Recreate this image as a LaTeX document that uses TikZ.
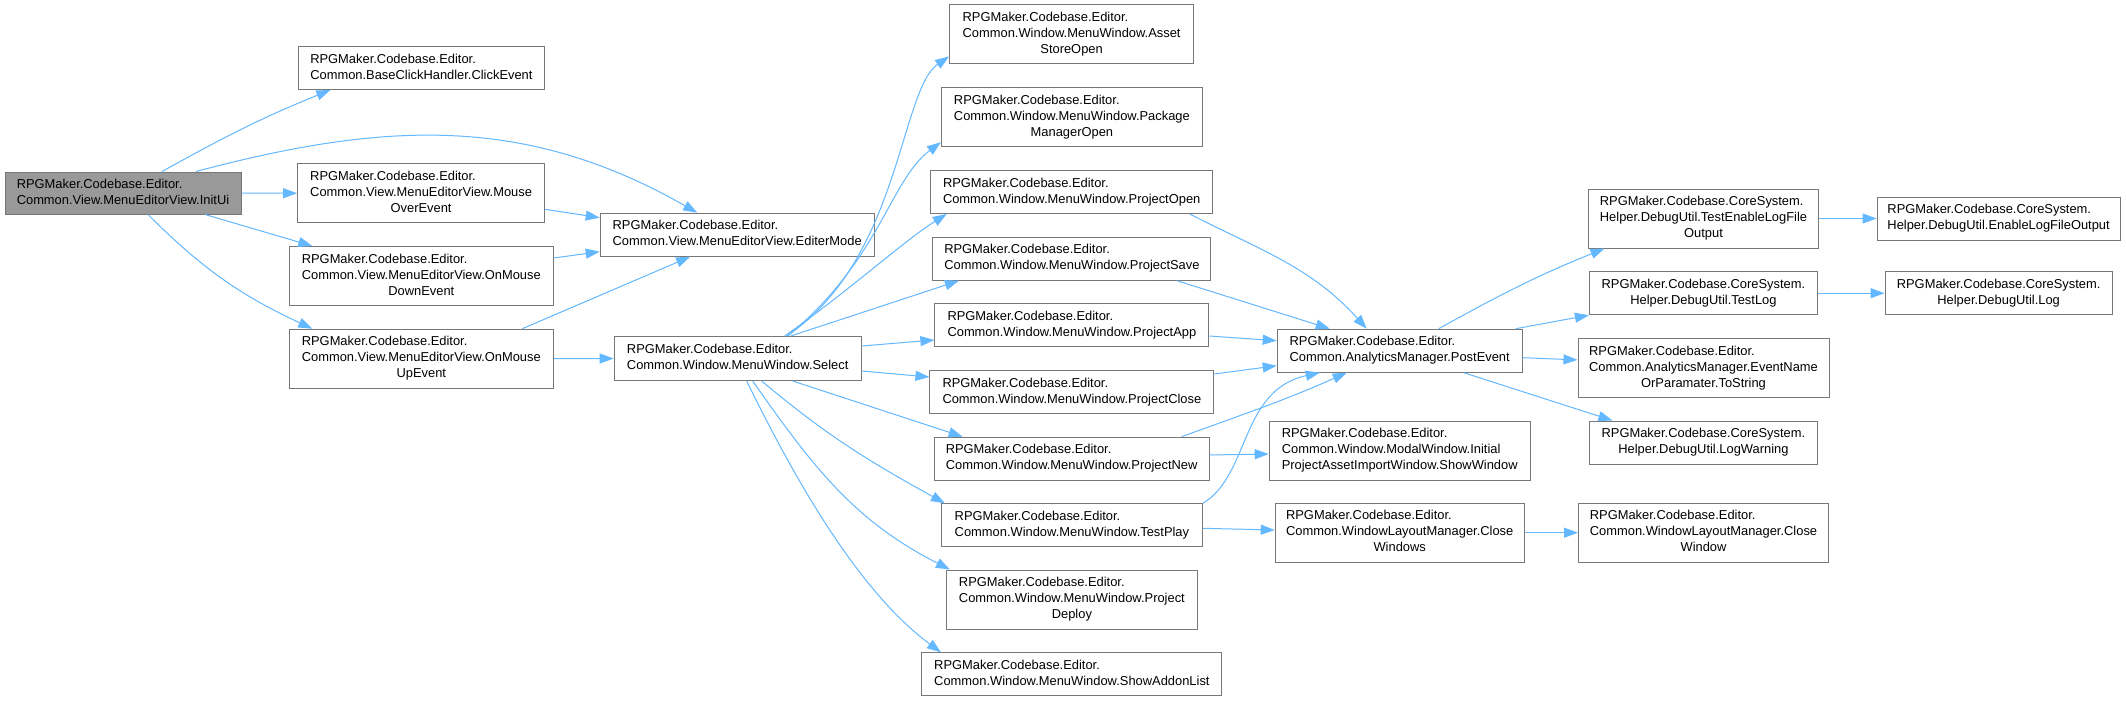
\documentclass[tikz,border=0pt]{standalone}
\usepackage{fontspec}
\setmainfont{Liberation Sans}
\usetikzlibrary{arrows.meta}
\definecolor{edgeblue}{HTML}{63B8FF}
\definecolor{bordergray}{HTML}{777777}
\definecolor{rootgray}{HTML}{999999}
\newcommand\lab[2]{\begin{tabular}{@{}l@{}}#1\\\multicolumn{1}{@{}c@{}}{#2}\end{tabular}}
\tikzset{
  nbox/.style={draw=bordergray, fill=white, line width=1pt, inner sep=0pt, text=black,
    font=\fontsize{12.9}{16}\selectfont},
  conn/.style={draw=edgeblue, line width=1pt, -{Triangle[length=14pt,width=10pt]}},
}
\begin{document}
\begin{tikzpicture}[x=1pt,y=-1pt]
\useasboundingbox[fill=white] (0,0) rectangle (2126,701);
% column 1
\node[nbox, fill=rootgray, minimum width=236pt, minimum height=42pt] (init) at (123,193) {\lab{RPGMaker.Codebase.Editor.}{Common.View.MenuEditorView.InitUi}};
% column 2
\node[nbox, minimum width=246pt, minimum height=43pt] (click) at (421.4,68) {\lab{RPGMaker.Codebase.Editor.}{Common.BaseClickHandler.ClickEvent}};
\node[nbox, minimum width=247pt, minimum height=59pt] (mover) at (421.1,193.3) {\lab{RPGMaker.Codebase.Editor.\\Common.View.MenuEditorView.Mouse}{OverEvent}};
\node[nbox, minimum width=264pt, minimum height=59pt] (mdown) at (421.3,276) {\lab{RPGMaker.Codebase.Editor.\\Common.View.MenuEditorView.OnMouse}{DownEvent}};
\node[nbox, minimum width=264pt, minimum height=59pt] (mup) at (421.3,358.7) {\lab{RPGMaker.Codebase.Editor.\\Common.View.MenuEditorView.OnMouse}{UpEvent}};
% column 3
\node[nbox, minimum width=274pt, minimum height=43pt] (editer) at (737.2,234.7) {\lab{RPGMaker.Codebase.Editor.}{Common.View.MenuEditorView.EditerMode}};
\node[nbox, minimum width=247pt, minimum height=44pt] (select) at (737.7,358.5) {\lab{RPGMaker.Codebase.Editor.}{Common.Window.MenuWindow.Select}};
% column 4
\node[nbox, minimum width=244pt, minimum height=59pt] (asset) at (1071.6,34.5) {\lab{RPGMaker.Codebase.Editor.\\Common.Window.MenuWindow.Asset}{StoreOpen}};
\node[nbox, minimum width=261pt, minimum height=59pt] (pkg) at (1071.9,117.2) {\lab{RPGMaker.Codebase.Editor.\\Common.Window.MenuWindow.Package}{ManagerOpen}};
\node[nbox, minimum width=282pt, minimum height=43pt] (popen) at (1071.7,192) {\lab{RPGMaker.Codebase.Editor.}{Common.Window.MenuWindow.ProjectOpen}};
\node[nbox, minimum width=278pt, minimum height=43pt] (psave) at (1071.9,258.7) {\lab{RPGMaker.Codebase.Editor.}{Common.Window.MenuWindow.ProjectSave}};
\node[nbox, minimum width=274pt, minimum height=43pt] (papp) at (1071.9,325) {\lab{RPGMaker.Codebase.Editor.}{Common.Window.MenuWindow.ProjectApp}};
\node[nbox, minimum width=284pt, minimum height=43pt] (pclose) at (1071.9,392) {\lab{RPGMaker.Codebase.Editor.}{Common.Window.MenuWindow.ProjectClose}};
\node[nbox, minimum width=275pt, minimum height=43pt] (pnew) at (1071.6,458.7) {\lab{RPGMaker.Codebase.Editor.}{Common.Window.MenuWindow.ProjectNew}};
\node[nbox, minimum width=261pt, minimum height=43pt] (tplay) at (1071.9,525.3) {\lab{RPGMaker.Codebase.Editor.}{Common.Window.MenuWindow.TestPlay}};
\node[nbox, minimum width=251pt, minimum height=59pt] (pdeploy) at (1071.9,599.5) {\lab{RPGMaker.Codebase.Editor.\\Common.Window.MenuWindow.Project}{Deploy}};
\node[nbox, minimum width=300pt, minimum height=43pt] (addon) at (1071.9,674.3) {\lab{RPGMaker.Codebase.Editor.}{Common.Window.MenuWindow.ShowAddonList}};
% column 5
\node[nbox, minimum width=245pt, minimum height=43pt] (post) at (1399.7,350.7) {\lab{RPGMaker.Codebase.Editor.}{Common.AnalyticsManager.PostEvent}};
\node[nbox, minimum width=261pt, minimum height=59pt] (showwin) at (1399.7,450.5) {\lab{RPGMaker.Codebase.Editor.\\Common.Window.ModalWindow.Initial}{ProjectAssetImportWindow.ShowWindow}};
\node[nbox, minimum width=249pt, minimum height=59pt] (closewins) at (1399.7,532.7) {\lab{RPGMaker.Codebase.Editor.\\Common.WindowLayoutManager.Close}{Windows}};
% column 6
\node[nbox, minimum width=230pt, minimum height=59pt] (tel) at (1703.5,218.5) {\lab{RPGMaker.Codebase.CoreSystem.\\Helper.DebugUtil.TestEnableLogFile}{Output}};
\node[nbox, minimum width=228pt, minimum height=43pt] (testlog) at (1703.4,293.2) {\lab{RPGMaker.Codebase.CoreSystem.}{Helper.DebugUtil.TestLog}};
\node[nbox, minimum width=251pt, minimum height=59pt] (evname) at (1703.5,367.9) {\lab{RPGMaker.Codebase.Editor.\\Common.AnalyticsManager.EventName}{OrParamater.ToString}};
\node[nbox, minimum width=228pt, minimum height=43pt] (logwarn) at (1703.4,442.5) {\lab{RPGMaker.Codebase.CoreSystem.}{Helper.DebugUtil.LogWarning}};
\node[nbox, minimum width=250pt, minimum height=59pt] (closewin) at (1703.5,532.7) {\lab{RPGMaker.Codebase.Editor.\\Common.WindowLayoutManager.Close}{Window}};
% column 7
\node[nbox, minimum width=243pt, minimum height=43pt] (enablelog) at (1998.6,218.5) {\lab{RPGMaker.Codebase.CoreSystem.}{Helper.DebugUtil.EnableLogFileOutput}};
\node[nbox, minimum width=227pt, minimum height=43pt] (log) at (1998.6,293.2) {\lab{RPGMaker.Codebase.CoreSystem.}{Helper.DebugUtil.Log}};

% edges from InitUi
\draw[conn] ([xshift=39pt]init.north) to[out=29,in=202] ([xshift=-91pt]click.south);
\draw[conn] ([xshift=73pt]init.north) .. controls (386,121) and (526,115) .. ([xshift=-40pt]editer.north);
\draw[conn] (init.east) -- (mover.west);
\draw[conn] ([xshift=82pt]init.south) -- ([xshift=-109pt]mdown.north);
\draw[conn] ([xshift=25pt]init.south) to[out=-45,in=155] ([xshift=-109pt]mup.north);
% to EditerMode / Select
\draw[conn] ([yshift=-16pt]mover.east) -- ([yshift=17pt]editer.west);
\draw[conn] ([yshift=18pt]mdown.east) -- ([yshift=-17pt]editer.west);
\draw[conn] ([xshift=101pt]mup.north) -- ([xshift=-47pt]editer.south);
\draw[conn] (mup.east) -- (select.west);
% from Select
\draw[conn] ([xshift=49pt]select.north) .. controls (900,260) and (900,90) .. ([yshift=-22pt]asset.west);
\draw[conn] ([xshift=50pt]select.north) .. controls (880,260) and (890,180) .. ([yshift=-25pt]pkg.west);
\draw[conn] ([xshift=47pt]select.north) .. controls (850,290) and (905,240) .. ([xshift=-125pt]popen.south);
\draw[conn] ([xshift=53pt]select.north) -- ([xshift=-113pt]psave.south);
\draw[conn] ([yshift=12.5pt]select.east) -- ([yshift=-15pt]papp.west);
\draw[conn] ([yshift=-12.5pt]select.east) -- ([yshift=15pt]pclose.west);
\draw[conn] ([xshift=55pt]select.south) -- ([xshift=-109pt]pnew.north);
\draw[conn] ([xshift=24pt]select.south) to[out=-40,in=151] ([xshift=-127pt]tplay.north);
\draw[conn] ([xshift=15pt]select.south) to[out=-55,in=153] ([xshift=-122pt]pdeploy.north);
\draw[conn] ([xshift=9pt]select.south) .. controls (799,488) and (861,593) .. ([xshift=-131pt]addon.north);
% to PostEvent
\draw[conn] ([xshift=118pt]popen.south) to[out=-27,in=132] ([xshift=-33pt]post.north);
\draw[conn] ([xshift=105pt]psave.south) -- ([xshift=-70pt]post.north);
\draw[conn] ([yshift=-11pt]papp.east) -- ([yshift=10pt]post.west);
\draw[conn] ([yshift=18pt]pclose.east) -- ([yshift=-15pt]post.west);
\draw[conn] ([xshift=110pt]pnew.north) to[out=20,in=204] ([xshift=-53pt]post.south);
\draw[conn] (tplay.north east) .. controls (1250,475) and (1240,390) .. ([xshift=-80pt]post.south);
\draw[conn] ([yshift=3.7pt]pnew.east) -- ([yshift=-3.5pt]showwin.west);
\draw[conn] ([yshift=-3pt]tplay.east) -- ([yshift=2.7pt]closewins.west);
% from PostEvent
\draw[conn] ([xshift=39pt]post.north) to[out=29,in=202] ([xshift=-99pt]tel.south);
\draw[conn] ([xshift=116pt]post.north) -- (testlog.south west);
\draw[conn] ([yshift=-7pt]post.east) -- ([yshift=8pt]evname.west);
\draw[conn] ([xshift=64pt]post.south) -- ([xshift=-91pt]logwarn.north);
% last column
\draw[conn] (tel) -- (enablelog);
\draw[conn] (testlog) -- (log);
\draw[conn] (closewins) -- (closewin);
\end{tikzpicture}
\end{document}
